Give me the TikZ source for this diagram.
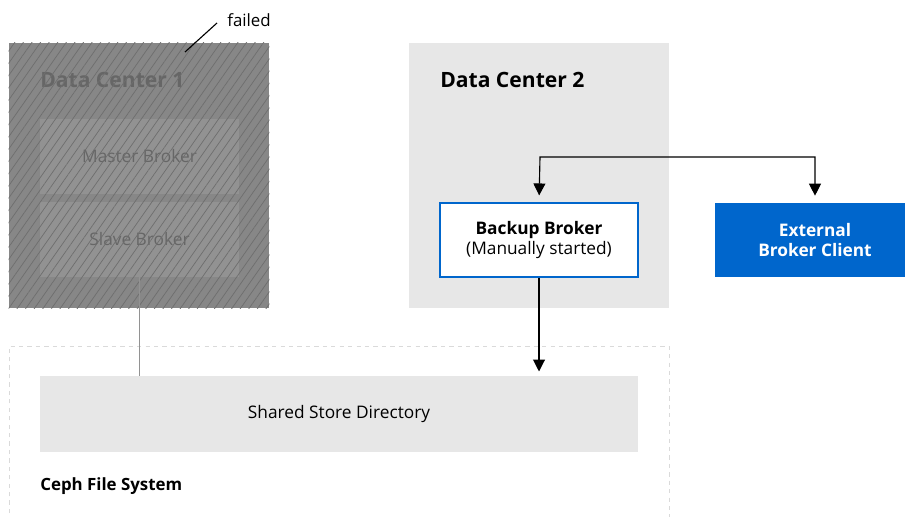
\documentclass[tikz,border=0pt]{standalone}
\usepackage{fontspec}
\setmainfont{Open Sans}
\definecolor{FailGray}{HTML}{878787}
\definecolor{HatchGray}{HTML}{6E6E6E}
\definecolor{BoxGray}{HTML}{929292}
\definecolor{TextGray}{HTML}{666666}
\definecolor{PanelGray}{HTML}{E7E7E7}
\definecolor{DashGray}{HTML}{DADADA}
\definecolor{RhBlue}{HTML}{0066CC}
\usepackage{tikz}
\usetikzlibrary{positioning, arrows.meta, calc, patterns.meta}

\begin{document}
\begin{tikzpicture}[
  x=0.025cm, y=-0.025cm,
  dcbox/.style={minimum width=6.5cm, minimum height=6.625cm, inner sep=0pt},
  deadbox/.style={fill=BoxGray, minimum width=4.975cm, minimum height=1.875cm,
    inner sep=0pt, text=TextGray, font=\fontsize{12.3}{14}\selectfont},
  bbox/.style={draw=RhBlue, line width=0.8pt, fill=white, align=center,
    minimum width=4.95cm, minimum height=1.85cm, font=\fontsize{12.3}{14}\selectfont},
  cbox/.style={fill=RhBlue, text=white, align=center, inner sep=0pt,
    minimum width=5cm, minimum height=1.85cm, font=\fontsize{12.3}{14}\selectfont\bfseries},
  ttl/.style={anchor=west, inner sep=0pt, font=\fontsize{15}{18}\selectfont\bfseries},
  arr/.style={-{Triangle[length=8.5pt, width=8.5pt]}, line width=0.8pt},
  biarr/.style={{Triangle[length=8.5pt, width=8.5pt]}-{Triangle[length=8.5pt, width=8.5pt]}, line width=0.8pt},
  gline/.style={draw=BoxGray, line width=0.6pt},
]
  \useasboundingbox (0,0) rectangle (905,517);

  % failed data center
  \node[dcbox, fill=FailGray] (dc1) at (139,175.5) {};
  \node[deadbox] (mb) at (139.5,156.5) {Master Broker};
  \node[deadbox] (sl) at (139.5,239.5) {Slave Broker};
  \node[ttl, text=TextGray] (t1) at (40,80) {Data Center 1};
  \fill[pattern={Lines[angle=55, distance=5pt, line width=0.5pt]}, pattern color=HatchGray]
    (dc1.south west) rectangle (dc1.north east);

  \coordinate (fp) at (185,52);
  \node[anchor=west, inner sep=0pt, font=\fontsize{12}{14}\selectfont] (fl) at (227,20) {failed};
  \draw[line width=0.8pt] (fp) -- (217,23);

  % second data center
  \node[dcbox, fill=PanelGray] (dc2) at (539,175.5) {};
  \node[ttl] (t2) at (440,80) {Data Center 2};
  \node[bbox] (bb) at (539,240) {\textbf{Backup Broker}\\(Manually started)};
  \node[cbox] (ext) at (815,240) {External\\Broker Client};

  % ceph
  \draw[DashGray, dashed, line width=0.6pt] (9,530) -- (9,346) -- (669,346) -- (669,530);
  \node[fill=PanelGray, minimum width=14.95cm, minimum height=1.9cm, inner sep=0pt,
    font=\fontsize{12.3}{14}\selectfont] (sh) at (339,414) {Shared Store Directory};
  \node[ttl, font=\fontsize{12}{14}\selectfont\bfseries] (cfs) at (40,486) {Ceph File System};

  \coordinate (split) at (540,157);
  \draw[biarr, shorten <=5pt, shorten >=5pt] (bb.north) -- (split) -| (ext.north);
  \draw[arr, shorten >=3pt] (bb.south) -- (bb.south |- sh.north);
  \draw[gline] (sl.south) -- (sl.south |- sh.north);
\end{tikzpicture}
\end{document}
